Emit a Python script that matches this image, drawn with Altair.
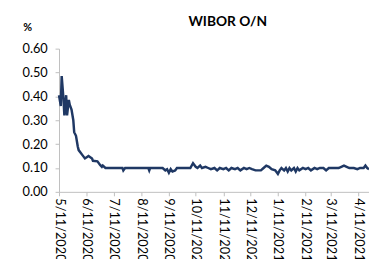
import altair as alt
import pandas as pd

# day offsets from 2020-05-11 and WIBOR O/N values (%)
start = "2020-05-11"
days = [0, 2, 3, 5, 6, 8, 9, 11, 12, 14, 16, 17, 19, 21, 22, 24, 26, 29, 31, 33,
        37, 38, 43, 46, 48, 49, 52, 60, 71, 72, 74, 90, 100, 101, 102, 110, 116,
        119, 121, 123, 125, 127, 130, 132, 135, 143, 147, 150, 153, 155, 158, 160,
        164, 167, 170, 174, 177, 180, 184, 187, 190, 193, 197, 200, 203, 207, 210,
        213, 216, 220, 223, 226, 229, 232, 235, 238, 242, 245, 247, 249, 252, 254,
        256, 258, 260, 263, 265, 267, 269, 273, 276, 279, 282, 286, 289, 292, 296,
        299, 302, 308, 313, 316, 319, 322, 325, 330, 334, 337, 341, 343, 345, 347]
values = [0.405, 0.36, 0.485, 0.39, 0.32, 0.405, 0.32, 0.385, 0.365, 0.345, 0.30,
          0.25, 0.235, 0.19, 0.175, 0.165, 0.155, 0.14, 0.145, 0.15,
          0.14, 0.13, 0.128, 0.113, 0.105, 0.11, 0.10, 0.10, 0.10, 0.09, 0.10, 0.10,
          0.10, 0.09, 0.10, 0.10, 0.10,
          0.09, 0.095, 0.08, 0.095, 0.085, 0.09, 0.10, 0.10, 0.10, 0.10, 0.12, 0.105,
          0.10, 0.11, 0.10, 0.105, 0.10, 0.095, 0.10, 0.09, 0.10, 0.095, 0.10, 0.09,
          0.10, 0.095, 0.10, 0.09, 0.10, 0.095, 0.10, 0.095, 0.09, 0.09, 0.09, 0.10,
          0.11, 0.105, 0.095, 0.09, 0.075, 0.09, 0.10, 0.09, 0.10, 0.085, 0.10, 0.09,
          0.10, 0.085, 0.10, 0.09, 0.10, 0.095, 0.10, 0.09, 0.10, 0.095, 0.10, 0.10,
          0.09, 0.10, 0.10, 0.10, 0.105, 0.11, 0.105, 0.10, 0.10, 0.095, 0.10, 0.10,
          0.11, 0.10, 0.095]

tick_months = [(2020, 5), (2020, 6), (2020, 7), (2020, 8), (2020, 9), (2020, 10),
               (2020, 11), (2020, 12), (2021, 1), (2021, 2), (2021, 3), (2021, 4)]
y_ticks = [0.0, 0.1, 0.2, 0.3, 0.4, 0.5, 0.6]

df = pd.DataFrame({
    "date": pd.to_datetime(start) + pd.to_timedelta(days, unit="D"),
    "value": values,
})

FONT = "Lato"
GREY = "#BFBFBF"

line = alt.Chart(df).mark_line(color="#1F3864", strokeWidth=2.5).encode(
    x=alt.X("date:T",
            scale=alt.Scale(domain=[alt.DateTime(year=2020, month=5, date=11),
                                    alt.DateTime(year=2021, month=4, date=23)]),
            axis=alt.Axis(title=None, format="%-m/%d/%Y", labelAngle=90,
                          values=[alt.DateTime(year=y, month=m, date=11) for y, m in tick_months],
                          labelOverlap=False, labelBound=False, labelFlush=False,
                          tickSize=4, labelPadding=2, grid=False,
                          domainColor=GREY, tickColor=GREY, labelColor="#000000",
                          labelFont=FONT, labelFontSize=13)),
    y=alt.Y("value:Q",
            scale=alt.Scale(domain=[0, 0.6], nice=False),
            axis=alt.Axis(title=None, format=".2f", values=y_ticks, tickSize=4,
                          labelPadding=8, grid=False, domainColor=GREY, tickColor=GREY,
                          labelColor="#000000", labelFont=FONT, labelFontSize=13)),
)

title = alt.Chart(pd.DataFrame({"t": ["WIBOR O/N"]})).mark_text(
    font=FONT, fontSize=14, fontWeight="bold", color="#000000", align="center",
    baseline="middle").encode(text="t:N", x=alt.value(172), y=alt.value(-27))

unit = alt.Chart(pd.DataFrame({"t": ["%"]})).mark_text(
    font=FONT, fontSize=11, fontWeight="bold", color="#000000", align="center",
    baseline="middle").encode(text="t:N", x=alt.value(-32), y=alt.value(-21))

chart = alt.layer(line, title, unit).properties(
    width=316, height=146, autosize="none",
    padding={"left": 52, "top": 39, "right": 0, "bottom": 66},
).configure_view(stroke=None)

chart.save("out.html", embed_options={"renderer": "svg", "actions": False})
